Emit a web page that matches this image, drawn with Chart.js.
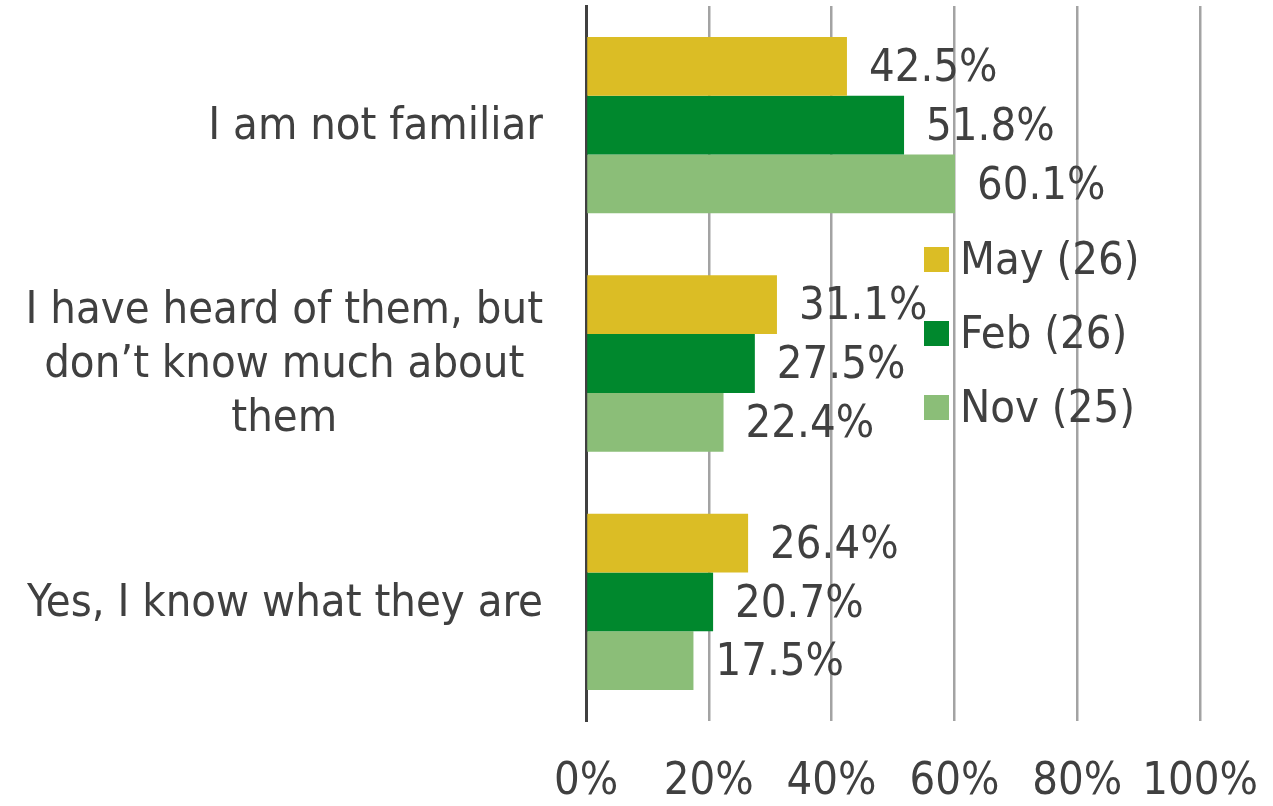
<!DOCTYPE html>
<html>
<head>
<meta charset="utf-8">
<script src="https://cdn.jsdelivr.net/npm/chart.js@4"></script>
<style>
  html, body { margin: 0; padding: 0; background: #fff; }
  #wrap { width: 1273px; height: 806px; }
</style>
</head>
<body>
<div id="wrap"><canvas id="surveyChart"></canvas></div>
<script>
// data
const categories = [
    ['I am not familiar'],
    ['I have heard of them, but', 'don\u2019t know much about', 'them'],
    ['Yes, I know what they are']
];
const seriesNames = ['May (26)', 'Feb (26)', 'Nov (25)'];
const mayValues = [42.5, 31.1, 26.4];
const febValues = [51.8, 27.5, 20.7];
const novValues = [60.1, 22.4, 17.5];
const xTicks = [0, 20, 40, 60, 80, 100];

const FONT = '"DejaVu Sans Condensed", "DejaVu Sans", sans-serif';
const TEXT = '#404040';
const colors = ['#DBBD25', '#00882D', '#8BBE78'];

// value labels at the end of each bar
const barLabels = {
    id: 'barLabels',
    afterDatasetsDraw(chart) {
        const ctx = chart.ctx;
        ctx.save();
        ctx.font = '45px ' + FONT;
        ctx.fillStyle = TEXT;
        ctx.textAlign = 'left';
        ctx.textBaseline = 'middle';
        chart.data.datasets.forEach((ds, i) => {
            chart.getDatasetMeta(i).data.forEach((bar, j) => {
                ctx.fillText(ds.data[j].toFixed(1) + '%', bar.x + 22, bar.y + 3);
            });
        });
        ctx.restore();
    }
};

// category labels, each block centred on itself and right aligned together
const categoryLabels = {
    id: 'categoryLabels',
    afterDraw(chart) {
        const ctx = chart.ctx;
        const yScale = chart.scales.y;
        const right = 543;
        const lineH = 54;
        ctx.save();
        ctx.font = '45px ' + FONT;
        ctx.fillStyle = TEXT;
        ctx.textAlign = 'center';
        ctx.textBaseline = 'middle';
        categories.forEach((lines, i) => {
            const w = Math.max(...lines.map(l => ctx.measureText(l).width));
            const cx = right - w / 2;
            const cy = yScale.getPixelForValue(i);
            lines.forEach((l, k) => {
                ctx.fillText(l, cx, cy + (k - (lines.length - 1) / 2) * lineH + 2);
            });
        });
        ctx.restore();
    }
};

// legend placed inside the plot, to the right
const innerLegend = {
    id: 'innerLegend',
    afterDraw(chart) {
        const ctx = chart.ctx;
        ctx.save();
        ctx.font = '45px ' + FONT;
        ctx.textAlign = 'left';
        ctx.textBaseline = 'middle';
        chart.data.datasets.forEach((ds, i) => {
            const y = 260 + i * 74;
            ctx.fillStyle = ds.backgroundColor;
            ctx.fillRect(924, y - 13, 25, 25);
            ctx.fillStyle = TEXT;
            ctx.fillText(ds.label, 960, y + 2);
        });
        ctx.restore();
    }
};

function initializeSurveyChart() {
    const ctx = document.getElementById('surveyChart').getContext('2d');

    new Chart(ctx, {
        type: 'bar',
        data: {
            labels: categories,
            datasets: [{
                label: seriesNames[0],
                data: mayValues,
                backgroundColor: colors[0]
            }, {
                label: seriesNames[1],
                data: febValues,
                backgroundColor: colors[1]
            }, {
                label: seriesNames[2],
                data: novValues,
                backgroundColor: colors[2]
            }]
        },
        options: {
            indexAxis: 'y',
            responsive: true,
            maintainAspectRatio: false,
            animation: false,
            categoryPercentage: 0.74,
            barPercentage: 1,
            layout: {
                padding: { top: 6, right: 73, left: 0, bottom: 0 }
            },
            plugins: {
                legend: { display: false },
                tooltip: { enabled: false }
            },
            scales: {
                x: {
                    min: 0,
                    max: 100,
                    afterBuildTicks: (scale) => {
                        scale.ticks = xTicks.map(v => ({ value: v }));
                    },
                    afterFit: (scale) => {
                        scale.height = 85;
                        scale.paddingLeft = 0;
                        scale.paddingRight = 0;
                    },
                    border: { display: false },
                    grid: {
                        color: '#A3A3A3',
                        lineWidth: 2.5,
                        drawTicks: false
                    },
                    ticks: {
                        color: TEXT,
                        padding: 34,
                        maxRotation: 0,
                        font: { family: FONT, size: 45 },
                        callback: (v) => v + '%'
                    }
                },
                y: {
                    afterFit: (scale) => { scale.width = 586; },
                    border: { display: true, color: '#404040', width: 3 },
                    grid: { display: false },
                    ticks: { display: false }
                }
            }
        },
        plugins: [barLabels, categoryLabels, innerLegend]
    });
}
initializeSurveyChart();
</script>
</body>
</html>
